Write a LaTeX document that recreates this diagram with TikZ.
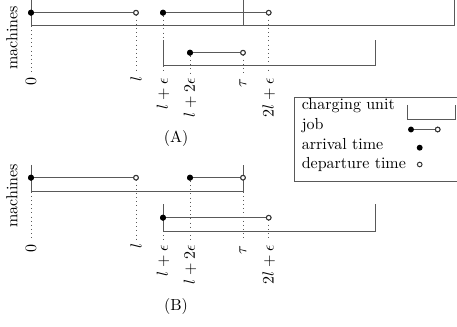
\documentclass[tikz,border=0pt]{standalone}
\begin{document}
\begin{tikzpicture}[x=0.625pt,y=-0.625pt,
  ln/.style={line width=0.6pt,black!65},
  unitbox/.style={line width=0.6pt,black!65},
  dotl/.style={line width=0.6pt,dotted,black!65},
  fdot/.style={circle,fill=black,inner sep=0pt,minimum size=3.7pt},
  odot/.style={circle,draw=black!80,fill=white,line width=0.6pt,inner sep=0pt,minimum size=2.9pt},
  lab/.style={rotate=90,anchor=east,inner sep=0pt,font=\normalsize},
  leg/.style={anchor=base west,inner sep=0pt}]
\useasboundingbox (0,0) rectangle (457,327);
\clip (0,0) rectangle (457,327);
% ---------------- (A) ----------------
\node[rotate=90] (macA) at (12,38) {machines};
% charging units
\draw[unitbox] (31,0) -- (31,25.7) -- (454,25.7) -- (454,0);
\draw[unitbox] (243,0) -- (243,25.7);
\draw[unitbox] (163,40) -- (163,65.7) -- (375,65.7) -- (375,40);
% dotted guide lines
\coordinate (gA0t) at (31,25.7);  \coordinate (gA0b) at (31,73);
\coordinate (gA1b) at (136,73);
\coordinate (gA2b) at (163,73);   \coordinate (gA2m) at (163,40); \coordinate (gA2n) at (163,65.7);
\coordinate (gA3b) at (190,73);
\coordinate (gA4b) at (243,73);
\coordinate (gA5b) at (268.7,73);
% jobs
\node[fdot] (a1s) at (31,12.7) {};
\node[odot] (a1e) at (136,12.7) {};
\node[fdot] (a2s) at (163,12.7) {};
\node[odot] (a2e) at (268.7,12.7) {};
\node[fdot] (a3s) at (190,52.7) {};
\node[odot] (a3e) at (243,52.7) {};
\draw[dotl] (gA0t) -- (gA0b);
\draw[dotl] (a1e) -- (gA1b);
\draw[dotl] (a2s) -- (gA2m);
\draw[dotl] (gA2n) -- (gA2b);
\draw[dotl] (a3s) -- (gA3b);
\draw[dotl] (a3e) -- (gA4b);
\draw[dotl] (a2e) -- (gA5b);
\draw[ln] (a1s) -- (a1e);
\draw[ln] (a2s) -- (a2e);
\draw[ln] (a3s) -- (a3e);
\node[fdot] at (a1s) {}; \node[fdot] at (a2s) {}; \node[fdot] at (a3s) {};
\node[odot] at (a1e) {}; \node[odot] at (a2e) {}; \node[odot] at (a3e) {};
% labels
\node[lab] (lA0) at (31,77) {$0$};
\node[lab] (lA1) at (136,76) {$l$};
\node[lab] (lA2) at (163,78) {$l+\epsilon$};
\node[lab] (lA3) at (190,78) {$l+2\epsilon$};
\node[lab] (lA4) at (243,78) {$\tau$};
\node[lab] (lA5) at (268.7,78) {$2l+\epsilon$};
\node (capA) at (176,139) {(A)};
% ---------------- (B) ----------------
\node[rotate=90] (macB) at (12,196) {machines};
\draw[unitbox] (31,165) -- (31,191.7) -- (243,191.7) -- (243,165);
\draw[unitbox] (163,204.3) -- (163,231) -- (375,231) -- (375,204.3);
\coordinate (gB0t) at (31,191.7);  \coordinate (gB0b) at (31,240);
\coordinate (gB1b) at (136,240);
\coordinate (gB2t) at (163,231);   \coordinate (gB2b) at (163,240);
\coordinate (gB3b) at (190,240);
\coordinate (gB4t) at (243,191.7); \coordinate (gB4b) at (243,240);
\coordinate (gB5b) at (268.7,240);
\node[fdot] (b1s) at (31,177.7) {};
\node[odot] (b1e) at (136,177.7) {};
\node[fdot] (b2s) at (190,177.7) {};
\node[odot] (b2e) at (243,177.7) {};
\node[fdot] (b3s) at (163,217.7) {};
\node[odot] (b3e) at (268.7,217.7) {};
\draw[dotl] (gB0t) -- (gB0b);
\draw[dotl] (b1e) -- (gB1b);
\draw[dotl] (gB2t) -- (gB2b);
\draw[dotl] (b2s) -- (gB3b);
\draw[dotl] (gB4t) -- (gB4b);
\draw[dotl] (b3e) -- (gB5b);
\draw[ln] (b1s) -- (b1e);
\draw[ln] (b2s) -- (b2e);
\draw[ln] (b3s) -- (b3e);
\node[fdot] at (b1s) {}; \node[fdot] at (b2s) {}; \node[fdot] at (b3s) {};
\node[odot] at (b1e) {}; \node[odot] at (b2e) {}; \node[odot] at (b3e) {};
\node[lab] (lB0) at (31,244) {$0$};
\node[lab] (lB1) at (136,243) {$l$};
\node[lab] (lB2) at (163,245) {$l+\epsilon$};
\node[lab] (lB3) at (190,245) {$l+2\epsilon$};
\node[lab] (lB4) at (243,245) {$\tau$};
\node[lab] (lB5) at (268.7,245) {$2l+\epsilon$};
\node (capB) at (176,307) {(B)};
% ---------------- legend ----------------
\draw[ln] (294,97.3) rectangle (470,181.3);
\node[leg] (t1) at (301.5,110) {charging unit};
\node[leg] (t2) at (301.5,130) {job};
\node[leg] (t3) at (301.5,149.5) {arrival time};
\node[leg] (t4) at (301.5,169) {departure time};
\draw[unitbox] (407,105) -- (407,119) -- (455.3,119) -- (455.3,105);
\node[fdot] (ljs) at (411,129.5) {};
\node[odot] (lje) at (437.7,129.5) {};
\draw[ln] (ljs) -- (lje);
\node[odot] at (lje) {};
\node[fdot] (larr) at (419.7,147.7) {};
\node[odot] (ldep) at (419.7,164.5) {};
\end{tikzpicture}
\end{document}
